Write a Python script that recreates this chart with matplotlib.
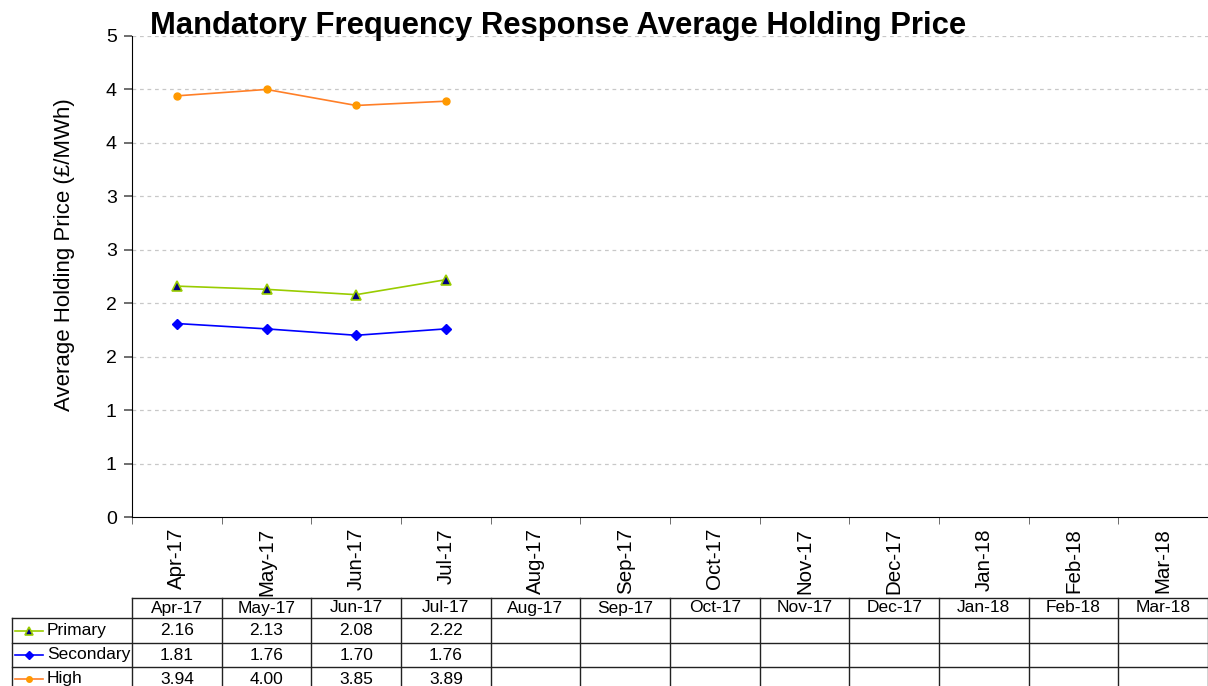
import numpy as np
import matplotlib
matplotlib.use('Agg')
import matplotlib.pyplot as plt
from matplotlib.lines import Line2D

plt.rcParams['font.family'] = ['Liberation Sans', 'DejaVu Sans']

months = ['Apr-17', 'May-17', 'Jun-17', 'Jul-17', 'Aug-17', 'Sep-17',
          'Oct-17', 'Nov-17', 'Dec-17', 'Jan-18', 'Feb-18', 'Mar-18']
primary = [2.16, 2.13, 2.08, 2.22]
secondary = [1.81, 1.76, 1.70, 1.76]
high = [3.94, 4.00, 3.85, 3.89]
yticks = [0, 0.5, 1, 1.5, 2, 2.5, 3, 3.5, 4, 4.5]
ytick_labels = ['0', '1', '1', '2', '2', '3', '3', '4', '4', '5']

W, H = 1208, 686
fig = plt.figure(figsize=(W / 100, H / 100), dpi=100)

def fx(px):
    return px / W

def fy(py):
    return 1 - py / H

left, right, top, bottom = 132, 1208, 36, 517
ax = fig.add_axes([fx(left), fy(bottom), fx(right - left), (bottom - top) / H])

x = np.arange(len(months))
styles = [
    ('Primary', primary, dict(color='#99CC00', marker='^', markerfacecolor='#000080',
                              markeredgecolor='#99CC00', markersize=7, markeredgewidth=1.2)),
    ('Secondary', secondary, dict(color='#0000FF', marker='D', markerfacecolor='#0000FF',
                                  markeredgecolor='#0000FF', markersize=5)),
    ('High', high, dict(color='#FF7F27', marker='o', markerfacecolor='#FF9900',
                        markeredgecolor='#FF9900', markersize=5)),
]
for name, vals, st in styles:
    ax.plot(x[:len(vals)], vals, lw=1.2, **st)

ax.set_xlim(-0.5, len(months) - 0.5)
ax.set_ylim(0, 4.5)
ax.set_yticks(yticks)
ax.set_yticklabels(ytick_labels, fontsize=14)
ax.tick_params(axis='y', direction='out', length=6, width=1.2, color='#555555', pad=5)
for yv in yticks[1:]:
    ax.axhline(yv, color='#C8C8C8', lw=0.9, ls=(0, (3, 3)), zorder=0)

ax.set_xticks(x)
ax.set_xticklabels(months, rotation=90, fontsize=14.8)
ax.tick_params(axis='x', length=0, pad=8)
ax.set_xticks(np.arange(-0.5, len(months)), minor=True)
ax.tick_params(axis='x', which='minor', direction='out', length=5, color='#555555')
ax.spines['top'].set_visible(False)
ax.spines['right'].set_visible(False)
ax.set_ylabel('Average Holding Price (£/MWh)', fontsize=16)
ax.yaxis.set_label_coords(-0.053, 0.545)

fig.text(fx(150), fy(26), 'Mandatory Frequency Response Average Holding Price',
         fontsize=22.3, fontweight='bold', ha='left', va='center')

# data table below the chart
colw = (right - left) / len(months)
row_y = [598, 618, 643, 667, 691]
lc = '#222222'
fig.add_artist(Line2D([fx(left), fx(right)], [fy(row_y[0])] * 2, color=lc, lw=1))
for yy in row_y[1:4]:
    fig.add_artist(Line2D([fx(12), fx(right)], [fy(yy)] * 2, color=lc, lw=1))
for i in range(len(months) + 1):
    xx = left + i * colw
    fig.add_artist(Line2D([fx(xx)] * 2, [fy(row_y[0]), fy(H)], color=lc, lw=1))
fig.add_artist(Line2D([fx(12)] * 2, [fy(row_y[1]), fy(H)], color=lc, lw=1))

for i, m in enumerate(months):
    cx = left + (i + 0.5) * colw
    fig.text(fx(cx), fy((row_y[0] + row_y[1]) / 2), m, fontsize=12.5, ha='center', va='center')

for r, (name, vals, st) in enumerate(styles):
    cy = (row_y[r + 1] + row_y[r + 2]) / 2
    if r == 2:
        cy = 679
    fig.add_artist(Line2D([fx(15), fx(29), fx(43)], [fy(cy)] * 3, lw=1.2, markevery=[1],
                          **dict(st, markersize=st['markersize'] - 1)))
    fig.text(fx(47), fy(cy), name, fontsize=12.5, ha='left', va='center')
    for i, v in enumerate(vals):
        cx = left + (i + 0.5) * colw
        fig.text(fx(cx), fy(cy), f'{v:.2f}', fontsize=12.5, ha='center', va='center')

fig.savefig('out.png', dpi=100)
